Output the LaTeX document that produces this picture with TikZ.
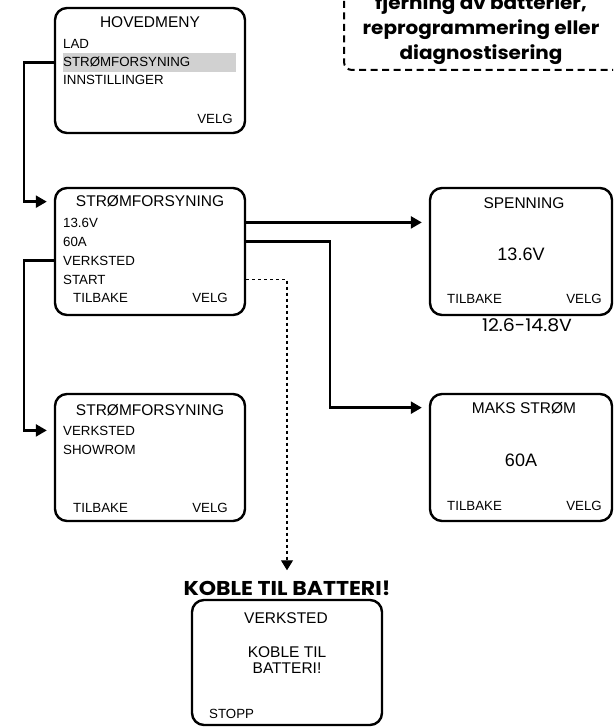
\documentclass[tikz,border=0pt]{standalone}
\usepackage{fontspec}
\setmainfont{Liberation Sans}
\newfontfamily\labelfont[FakeStretch=1.08]{Poppins}
\newfontfamily\warnfont[FakeStretch=1.1]{Poppins}
\usetikzlibrary{arrows.meta}

\tikzset{
	screen/.style={draw, line width=2.4pt, rounded corners=12pt, minimum width=190pt, minimum height=127pt, inner sep=0pt},
	ttl/.style={font=\fontsize{15.5}{18}\selectfont, inner sep=0pt, anchor=base},
	row/.style={font=\fontsize{13.3}{15}\selectfont, inner sep=0pt, anchor=base west},
	rrow/.style={font=\fontsize{13.3}{15}\selectfont, inner sep=0pt, anchor=base east},
	val/.style={font=\fontsize{18}{21}\selectfont, inner sep=0pt, anchor=base},
	note/.style={font=\labelfont\bfseries\fontsize{18.5}{22}\selectfont, inner sep=0pt, anchor=base},
	link/.style={line width=2.4pt},
	tip/.style={-{Triangle[length=11pt,width=12pt]}, shorten >=7pt},
}

\begin{document}
\begin{tikzpicture}[x=1pt, y=-1pt]
			%%%%% START %%%%%
			\useasboundingbox (0,0) rectangle (613,727);
			\clip (0,0) rectangle (613,727);
			
			% note box, top right
			\draw[line width=2pt, dash pattern=on 7pt off 4.5pt, rounded corners=8pt] (344,-30) rectangle (650,70);
			\node[note] (n1) at (481,10) {fjerning av batterier,};
			\node[note] (n2) at (481,35) {reprogrammering eller};
			\node[note] (n3) at (481,60) {diagnostisering};
			
			% main menu
			\node[screen, minimum height=125pt] (hoved) at (150,70.5) {};
			\node[fill=black!18, minimum width=173pt, minimum height=19pt, inner sep=0pt] (hl) at (149.5,62.5) {};
			\node[ttl] (t1) at (150,28) {HOVEDMENY};
			\node[row] (lad) at (63,49) {LAD};
			\node[row] (strm) at (63,67) {STRØMFORSYNING};
			\node[row] (inst) at (63,85) {INNSTILLINGER};
			\node[rrow] (v1) at (233,124) {VELG};
			
			% power supply menu
			\node[screen] (strom) at (150,251.5) {};
			\node[ttl] (t2) at (150,207) {STRØMFORSYNING};
			\node[row] (volt) at (63,227) {13.6V};
			\node[row] (amp) at (63,246) {60A};
			\node[row] (verk) at (63,265) {VERKSTED};
			\node[row] (start) at (63,284) {START};
			\node[row] (b2) at (73,302) {TILBAKE};
			\node[rrow] (v2) at (228,302) {VELG};
			
			% voltage
			\node[screen, minimum width=182pt] (span) at (521,251.5) {};
			\node[ttl] (t3) at (524,208) {SPENNING};
			\node[val] (vv) at (521,260) {13.6V};
			\node[row] (b3) at (447,303) {TILBAKE};
			\node[rrow] (v3) at (602,303) {VELG};
			\node[font=\labelfont\fontsize{17.5}{20}\selectfont, inner sep=0pt, anchor=base] (range) at (527,331) {12.6-14.8V};
			
			% mode menu
			\node[screen] (modus) at (150,457.5) {};
			\node[ttl] (t4) at (150,415) {STRØMFORSYNING};
			\node[row] (verk2) at (63,435) {VERKSTED};
			\node[row] (show) at (63,454) {SHOWROM};
			\node[row] (b4) at (73,512) {TILBAKE};
			\node[rrow] (v4) at (228,512) {VELG};
			
			% max current
			\node[screen, minimum width=182pt] (maks) at (521,457.5) {};
			\node[ttl] (t5) at (524,413) {MAKS STRØM};
			\node[val] (va) at (521,466) {60A};
			\node[row] (b5) at (447,510) {TILBAKE};
			\node[rrow] (v5) at (602,510) {VELG};
			
			% connect battery
			\node[font=\warnfont\bfseries\fontsize{20}{24}\selectfont, inner sep=0pt, anchor=base] (kob) at (287,595) {KOBLE TIL BATTERI!};
			\node[screen, minimum height=125pt] (verksted) at (287,662.5) {};
			\node[ttl] (t6) at (286,623) {VERKSTED};
			\node[ttl] (k1) at (287,657) {KOBLE TIL};
			\node[ttl] (k2) at (287,673) {BATTERI!};
			\node[row] (stopp) at (209,718) {STOPP};
			
			% connectors
			\draw[link, tip] (hoved.west |- hl.center) -- ++(-30,0) |- (strom.west |- t2.center);
			\draw[link, tip] (strom.west |- verk.center) -- ++(-30,0) |- (modus.west |- verk2.center);
			\draw[link, tip] (strom.east |- volt.center) -- (span.west |- volt.center);
			\draw[link, tip] (strom.east |- amp.center) -- ++(84,0) |- (maks.west |- t5.center);
			\draw[line width=1.1pt, dash pattern=on 3pt off 3pt, -{Triangle[length=10pt,width=12pt]}, shorten >=10pt] (strom.east |- start.center) -| (kob.north);
			
			%%%%% END %%%%%
\end{tikzpicture}
\end{document}
